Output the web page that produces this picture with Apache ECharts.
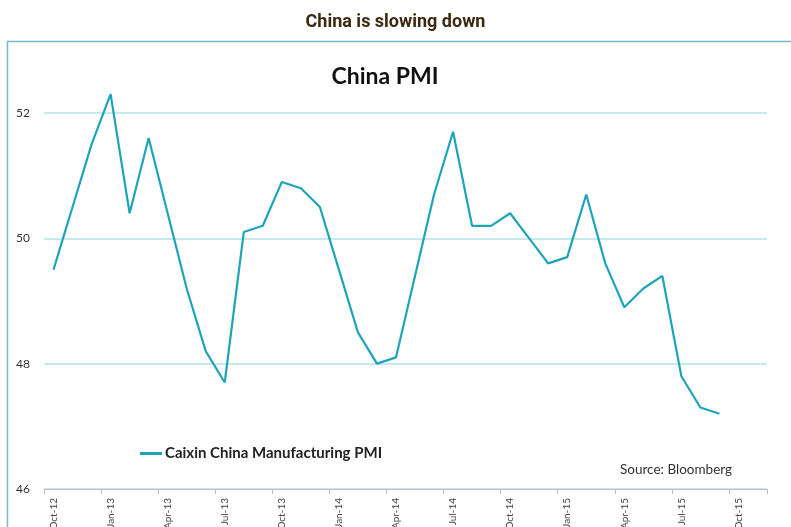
<!DOCTYPE html>
<html>
<head>
<meta charset="utf-8">
<script src="https://cdn.jsdelivr.net/npm/echarts@6/dist/echarts.min.js"></script>
<style>
html,body{margin:0;padding:0;background:#fff;}
#chart{width:791px;height:527px;}
</style>
</head>
<body>
<div id="chart"></div>
<script>
const categories = ['Oct-12','Nov-12','Dec-12','Jan-13','Feb-13','Mar-13','Apr-13','May-13','Jun-13','Jul-13','Aug-13','Sep-13',
  'Oct-13','Nov-13','Dec-13','Jan-14','Feb-14','Mar-14','Apr-14','May-14','Jun-14','Jul-14','Aug-14','Sep-14',
  'Oct-14','Nov-14','Dec-14','Jan-15','Feb-15','Mar-15','Apr-15','May-15','Jun-15','Jul-15','Aug-15','Sep-15',
  'Oct-15','Nov-15'];
const pmiValues = [49.5,50.5,51.5,52.3,50.4,51.6,50.4,49.2,48.2,47.7,50.1,50.2,
  50.9,50.8,50.5,49.5,48.5,48.0,48.1,49.4,50.7,51.7,50.2,50.2,
  50.4,50.0,49.6,49.7,50.7,49.6,48.9,49.2,49.4,47.8,47.3,47.2,
  null,null];
const seriesName = 'Caixin China Manufacturing PMI';
const yMin = 46, yMax = 52, yStep = 2;

const chart = echarts.init(document.getElementById('chart'), null, {renderer:'canvas'});
chart.setOption({
  animation:false,
  title:[
    {text:'China is slowing down', left:'center', top:8,
     textStyle:{fontFamily:'Liberation Sans Narrow, Roboto, sans-serif', fontSize:18, fontWeight:'bold', color:'#3b2a10'}},
    {text:'China PMI', left:380, textAlign:'center', top:60,
     textStyle:{fontFamily:'Lato, Open Sans, sans-serif', fontSize:23, fontWeight:'bold', color:'#111'}}
  ],
  graphic:[
    {type:'polyline', silent:true, shape:{points:[[7.5,527],[7.5,41.5],[791,41.5]]},
     style:{stroke:'#74b9cf', lineWidth:1.5, fill:null}},
    {type:'text', left:620, top:463, style:{text:'Source: Bloomberg', font:'13.5px Lato, sans-serif', fill:'#333'}}
  ],
  legend:{
    left:135, top:441, itemWidth:22, itemHeight:3, icon:'rect', itemGap:4,
    textStyle:{fontFamily:'Lato, sans-serif', fontSize:15, fontWeight:'bold', color:'#222', padding:[0,0,0,-2]},
    data:[seriesName]
  },
  grid:{left:44, right:24, top:113, bottom:38, containLabel:false, outerBoundsMode:'none'},
  xAxis:{
    type:'category', data:categories, boundaryGap:true,
    axisLine:{lineStyle:{color:'#bfbfbf', width:1}},
    axisTick:{show:true, interval:2, length:5, lineStyle:{color:'#bfbfbf'}},
    axisLabel:{interval:2, rotate:90, fontSize:10, color:'#444', fontFamily:'Lato, sans-serif', margin:9},
    splitLine:{show:false}
  },
  yAxis:{
    type:'value', min:yMin, max:yMax, interval:yStep,
    axisLine:{show:false}, axisTick:{show:false},
    axisLabel:{fontSize:12, color:'#333', fontFamily:'Lato, sans-serif', margin:14},
    splitLine:{lineStyle:{color:'#b5e0e6', width:1.5}}
  },
  series:[{
    name:seriesName, type:'line', data:pmiValues, showSymbol:false, symbol:'none', clip:false,
    lineStyle:{color:'#1ea4b8', width:2.2}, itemStyle:{color:'#1ea4b8'}, connectNulls:false
  }]
});
</script>
</body>
</html>
